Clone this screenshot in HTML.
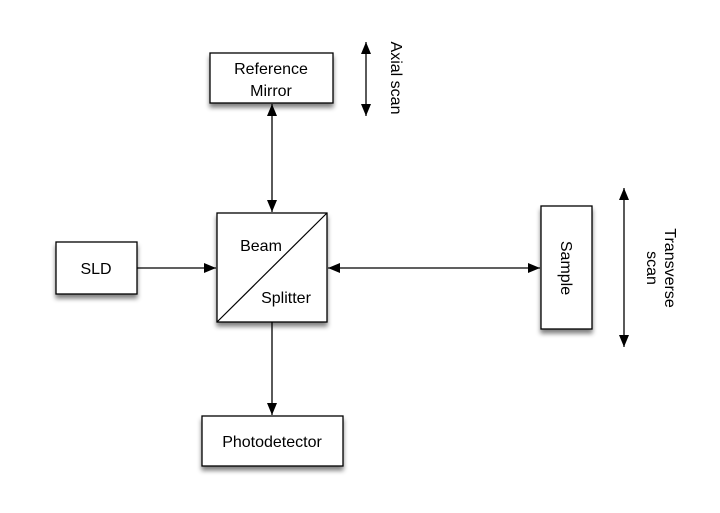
<!DOCTYPE html>
<html><head><style>
body{margin:0;background:#fff;width:720px;height:508px;overflow:hidden}
text{font-family:"Liberation Sans",sans-serif;font-size:16px;fill:#000}
</style></head><body>
<svg width="720" height="508" viewBox="0 0 720 508">
<defs>
<marker id="a" viewBox="0 0 12 10" refX="12" refY="5" markerWidth="12" markerHeight="10" markerUnits="userSpaceOnUse" orient="auto-start-reverse"><path d="M0,0L12,5L0,10z" fill="#000"/></marker>
<filter id="s" x="-20%" y="-20%" width="140%" height="160%"><feGaussianBlur in="SourceAlpha" stdDeviation="2.5"/><feOffset dx="0" dy="4"/><feComponentTransfer><feFuncA type="linear" slope="0.5"/></feComponentTransfer><feMerge><feMergeNode/><feMergeNode in="SourceGraphic"/></feMerge></filter>
</defs>
<g stroke="#000" stroke-width="1.3" fill="#fff" filter="url(#s)">
<rect x="210" y="53" width="123" height="50"/>
<rect x="217" y="213" width="110" height="109"/>
<rect x="56" y="242" width="81" height="52"/>
<rect x="541" y="206" width="51" height="123"/>
<rect x="202" y="416" width="141" height="50"/>
</g>
<line x1="217" y1="322" x2="327" y2="213" stroke="#000" stroke-width="1.2"/>
<g stroke="#000" stroke-width="1.3" fill="none">
<line x1="272" y1="104" x2="272" y2="212" marker-start="url(#a)" marker-end="url(#a)"/>
<line x1="366" y1="42" x2="366" y2="116" marker-start="url(#a)" marker-end="url(#a)"/>
<line x1="137" y1="268" x2="216" y2="268" marker-end="url(#a)"/>
<line x1="328" y1="268" x2="540" y2="268" marker-start="url(#a)" marker-end="url(#a)"/>
<line x1="624" y1="188" x2="624" y2="347" marker-start="url(#a)" marker-end="url(#a)"/>
<line x1="272" y1="322" x2="272" y2="415" marker-end="url(#a)"/>
</g>
<text x="271" y="74" text-anchor="middle">Reference</text>
<text x="271" y="96" text-anchor="middle">Mirror</text>
<text x="261" y="251" text-anchor="middle">Beam</text>
<text x="286" y="303" text-anchor="middle">Splitter</text>
<text x="96" y="274" text-anchor="middle">SLD</text>
<text x="272" y="447" text-anchor="middle">Photodetector</text>
<text transform="translate(561,268) rotate(90)" text-anchor="middle">Sample</text>
<text transform="translate(391,78) rotate(90)" text-anchor="middle">Axial scan</text>
<text transform="translate(665,268) rotate(90)" text-anchor="middle">Transverse</text>
<text transform="translate(647,268) rotate(90)" text-anchor="middle">scan</text>
</svg>
</body></html>
